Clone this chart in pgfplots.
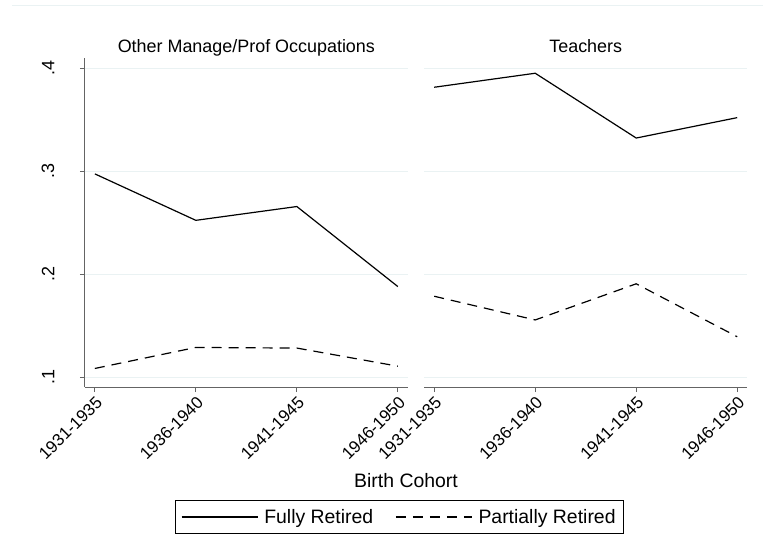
\documentclass[border=0pt]{standalone}
\usepackage{pgfplots}
\pgfplotsset{compat=1.18}
\usepackage{fontspec}
\setmainfont{Liberation Sans}
\definecolor{gridc}{RGB}{234,242,243}
\definecolor{axc}{RGB}{100,100,100}

\pgfplotstableread{
x full part
0 0.2974 0.1085
1 0.2523 0.1289
2 0.2657 0.1283
3 0.1880 0.1107
}\othertab
\pgfplotstableread{
x full part
0 0.3815 0.1786
1 0.3951 0.1556
2 0.3322 0.1907
3 0.3520 0.1393
}\teachtab

\begin{document}
\begin{tikzpicture}[x=1bp,y=1bp]
\useasboundingbox (0,0) rectangle (763,558);
\draw[gridc, line width=1bp] (12,552) -- (763,552);

\pgfplotsset{
  panel/.style={
    anchor=south west,
    scale only axis,
    width=323bp, height=329bp,
    xmin=-0.099, xmax=3.099,
    ymin=0.0903, ymax=0.4097,
    xtick={0,1,2,3},
    xticklabels={1931-1935,1936-1940,1941-1945,1946-1950},
    ytick={0.1,0.2,0.3,0.4},
    yticklabels={.1,.2,.3,.4},
    ymajorgrids,
    grid style={gridc, line width=1.2bp},
    axis x line*=bottom,
    axis y line*=left,
    tick align=outside,
    major tick length=5bp,
    tick style={axc, line width=1bp},
    axis line style={axc, line width=1.3bp, -},
    x tick label style={rotate=45, anchor=north east, font=\fontsize{17}{19}\selectfont, inner sep=2bp},
    y tick label style={rotate=90, anchor=south, font=\fontsize{18}{20}\selectfont},
    yticklabel shift=22bp,
    /pgf/number format/assume math mode=true,
    title style={at={(0.5,1)}, anchor=base, font=\fontsize{18}{20}\selectfont},
    clip=false,
  },
  full/.style={black, line width=1.2bp},
  part/.style={black, line width=1.2bp, dash pattern=on 10bp off 7bp},
}

\begin{axis}[panel, at={(84,165.8)},
  title={Other Manage/Prof Occupations},
  legend columns=2,
  legend style={at={(0.9737,-0.3945)}, anchor=center, draw=black, line width=0.8bp,
    font=\fontsize{19.5}{21}\selectfont,
    inner xsep=6bp, inner ysep=7bp,
    /tikz/every odd column/.append style={column sep=4bp},
    /tikz/every even column/.append style={column sep=20bp}},
  legend image code/.code={\draw[#1] (0bp,0bp) -- (76bp,0bp);},
]
\addplot[full] table[x=x, y=full] {\othertab};
\addlegendentry{Fully Retired}
\addplot[part] table[x=x, y=part] {\othertab};
\addlegendentry{Partially Retired}
\end{axis}

\begin{axis}[panel, at={(420,165.8)},
  title={Teachers},
  y axis line style={draw=none},
  yticklabels={},
  major y tick style={draw=none},
]
\addplot[full] table[x=x, y=full] {\teachtab};
\addplot[part] table[x=x, y=part] {\teachtab};
\end{axis}

\node[font=\fontsize{19.5}{21}\selectfont] at (406,77) {Birth Cohort};
\end{tikzpicture}
\end{document}
